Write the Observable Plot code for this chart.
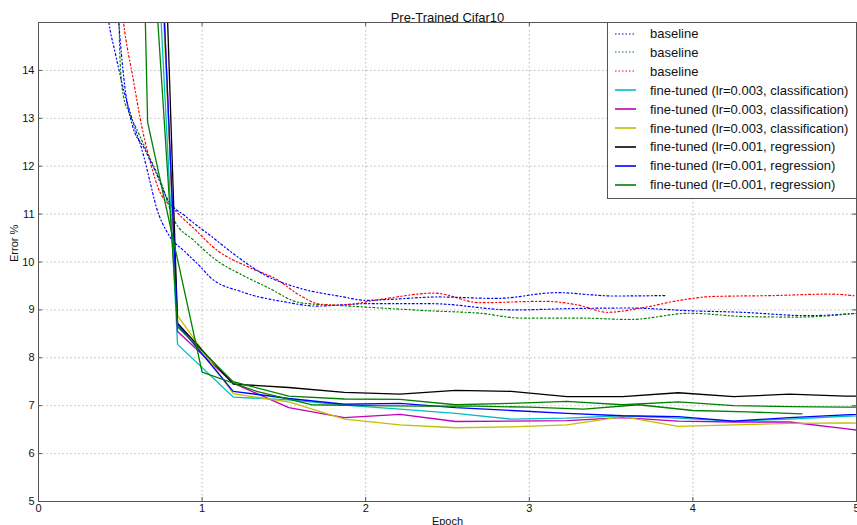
<!DOCTYPE html>
<html><head><meta charset="utf-8">
<script src="https://cdn.jsdelivr.net/npm/d3@7"></script>
<script src="https://cdn.jsdelivr.net/npm/@observablehq/plot@0.6"></script>
<style>
body{margin:0;background:#fff;font-family:"Liberation Sans",Arial,sans-serif;}
#wrap{position:relative;width:857px;height:525px;overflow:hidden;}
#legend{position:absolute;left:607px;top:22px;width:250px;height:177px;border:1px solid #555;background:#fff;box-sizing:border-box;}
.item{position:absolute;left:0;height:18px;display:flex;align-items:center;font-size:13px;color:#111;white-space:nowrap;}
.item svg{margin-left:7px;margin-right:13px;}
</style></head><body><div id="wrap"></div>
<script>
// ---- data ----
const TITLE = "Pre-Trained Cifar10";
const X_LABEL = "Epoch";
const Y_LABEL = "Error %";
const X_TICKS = [0, 1, 2, 3, 4, 5];
const Y_TICKS = [5, 6, 7, 8, 9, 10, 11, 12, 13, 14];

// baselines (dash-dot curves)
const BASE_BLUE_X = [0.41,0.43,0.47,0.52,0.58,0.64,0.68,0.72,0.79,0.90,0.99,1.05,1.24,1.50,1.70,2.00,2.40,2.90,3.30,3.60,4.00,4.30,4.70,5.00];
const BASE_BLUE_Y = [15.5,15.0,14.35,13.6,12.9,12.25,11.7,11.15,10.6,10.2,9.9,9.68,9.38,9.17,9.08,9.13,9.13,9.0,9.03,9.04,8.98,8.95,8.88,8.93];
const BASE_GREEN_X = [0.49,0.50,0.52,0.55,0.61,0.67,0.75,0.83,0.95,1.09,1.25,1.40,1.60,1.90,2.09,2.40,2.70,2.95,3.30,3.62,3.98,4.33,4.64,5.00];
const BASE_GREEN_Y = [15.3,14.1,13.45,13.15,12.7,12.25,11.65,10.87,10.45,10.03,9.72,9.47,9.15,9.08,9.04,8.98,8.93,8.83,8.83,8.80,8.93,8.86,8.85,8.93];
const BASE_RED_X = [0.51,0.52,0.58,0.63,0.69,0.73,0.83,0.95,1.09,1.30,1.45,1.60,1.72,1.85,2.09,2.42,2.70,3.09,3.30,3.48,3.70,3.92,4.12,4.50,4.84,5.00];
const BASE_RED_Y = [15.3,15.0,13.8,12.85,12.0,11.56,11.1,10.7,10.25,9.87,9.65,9.3,9.12,9.1,9.22,9.35,9.15,9.18,9.1,8.95,9.05,9.2,9.28,9.3,9.33,9.29];
const BASE_BLUE2_X = [0.48,0.50,0.53,0.57,0.65,0.72,0.79,0.90,1.07,1.20,1.40,1.60,1.85,2.00,2.15,2.44,2.80,3.17,3.52,3.84];
const BASE_BLUE2_Y = [15.5,14.6,13.6,12.9,12.35,11.85,11.3,10.95,10.5,10.15,9.7,9.45,9.28,9.2,9.22,9.27,9.24,9.36,9.29,9.3];

// fine-tuned (piecewise linear)
const FT_X = [0.51,0.85,1.19,1.53,1.87,2.21,2.55,2.89,3.23,3.57,3.91,4.25,4.59,4.93,5.27];
const FT_CYAN    = [31.1,8.28,7.18,7.12,7.01,6.93,6.84,6.72,6.74,6.79,6.74,6.68,6.72,6.78,6.82];
const FT_MAGENTA = [36.0,8.55,7.47,6.96,6.75,6.82,6.67,6.68,6.69,6.75,6.68,6.66,6.66,6.52,6.38];
const FT_YELLOW  = [33.6,8.88,7.25,7.08,6.72,6.60,6.54,6.56,6.60,6.77,6.57,6.60,6.63,6.64,6.62];
const FT_BLACK   = [44.0,8.72,7.45,7.38,7.28,7.24,7.32,7.30,7.19,7.19,7.27,7.19,7.24,7.20,7.21];
const FT_BLUE    = [35.5,8.70,7.30,7.15,7.03,7.05,6.96,6.90,6.84,6.79,6.77,6.68,6.75,6.81,6.86];
const FT_GREEN   = [26.6,8.65,7.50,7.20,7.14,7.13,7.02,7.05,7.09,7.02,7.08,7.00,6.98,6.97,6.97];
const FT_GREEN2_X = [0.333,0.667,1.0,1.333,1.667,2.0,2.333,2.667,3.0,3.333,3.667,4.0,4.333,4.667];
const FT_GREEN2   = [63.0,12.92,7.70,7.30,7.02,7.00,6.99,6.99,6.97,6.93,7.02,6.90,6.87,6.83];

const LEGEND_LABELS = ["baseline","baseline","baseline",
  "fine-tuned (lr=0.003, classification)","fine-tuned (lr=0.003, classification)","fine-tuned (lr=0.003, classification)",
  "fine-tuned (lr=0.001, regression)","fine-tuned (lr=0.001, regression)","fine-tuned (lr=0.001, regression)"];

// ---- styles ----
const DASH = "2,2.5,1,2.5";
const series = [
  {xs: BASE_BLUE_X,  ys: BASE_BLUE_Y,  color: "#0000ff", dash: DASH, curve: "monotone-x"},
  {xs: BASE_GREEN_X, ys: BASE_GREEN_Y, color: "#008000", dash: DASH, curve: "monotone-x"},
  {xs: BASE_RED_X,   ys: BASE_RED_Y,   color: "#ff0000", dash: DASH, curve: "monotone-x"},
  {xs: BASE_BLUE2_X, ys: BASE_BLUE2_Y, color: "#0000ff", dash: DASH, curve: "monotone-x"},
  {xs: FT_X, ys: FT_CYAN,    color: "#00bfbf", dash: null, curve: "linear"},
  {xs: FT_X, ys: FT_MAGENTA, color: "#bf00bf", dash: null, curve: "linear"},
  {xs: FT_X, ys: FT_YELLOW,  color: "#bfbf00", dash: null, curve: "linear"},
  {xs: FT_X, ys: FT_BLACK,   color: "#000000", dash: null, curve: "linear"},
  {xs: FT_X, ys: FT_BLUE,    color: "#0000ff", dash: null, curve: "linear"},
  {xs: FT_X, ys: FT_GREEN,   color: "#008000", dash: null, curve: "linear"},
  {xs: FT_GREEN2_X, ys: FT_GREEN2, color: "#008000", dash: null, curve: "linear"}
];
const legendStyles = [series[0], series[1], series[2], series[4], series[5], series[6], series[7], series[8], series[9]];

const lineMarks = series.map(s => Plot.line(
  s.xs.map((x, i) => ({epoch: x, err: s.ys[i]})),
  {x: "epoch", y: "err", stroke: s.color, strokeWidth: s.dash ? 1.2 : 1.3, strokeDasharray: s.dash, curve: s.curve, clip: true}
));

const gridStyle = {stroke: "#aaaaaa", strokeOpacity: 1, strokeWidth: 0.8, strokeDasharray: "1.5,2.5"};
const inner = X_TICKS.slice(1, -1);
const innerY = Y_TICKS.slice(1);

const chart = Plot.plot({
  width: 857, height: 525,
  marginLeft: 38, marginRight: 1, marginTop: 22, marginBottom: 24,
  style: {fontFamily: "'Liberation Sans', Arial, sans-serif", fontSize: "11px", color: "#111", background: "#fff"},
  x: {domain: [0, 5]},
  y: {domain: [5, 15]},
  marks: [
    Plot.gridX(inner, gridStyle),
    Plot.gridY(innerY, gridStyle),
    ...lineMarks,
    Plot.ruleX(inner, {stroke: "#555", insetTop: 475}),
    Plot.ruleX(inner, {stroke: "#555", insetBottom: 475}),
    Plot.ruleY(innerY, {stroke: "#555", insetRight: 814}),
    Plot.ruleY(innerY, {stroke: "#555", insetLeft: 814}),
    Plot.frame({stroke: "#555", strokeWidth: 1}),
    Plot.axisX(X_TICKS, {anchor: "bottom", tickSize: 0, tickPadding: 3, tickFormat: d3.format("d"), label: null, fill: "#111"}),
    Plot.axisY(Y_TICKS, {anchor: "left", tickSize: 0, tickPadding: 4, tickFormat: d3.format("d"), label: null, fill: "#111"}),
    Plot.text([X_LABEL], {frameAnchor: "bottom", dy: 16, lineAnchor: "top", fontSize: 11, fill: "#111"}),
    Plot.text([Y_LABEL], {frameAnchor: "left", dx: -24, rotate: -90, fontSize: 11, fill: "#111"}),
    Plot.text([TITLE], {frameAnchor: "top", dy: -10, fontSize: 13, fill: "#111"})
  ]
});

const wrap = document.getElementById("wrap");
wrap.appendChild(chart);

// legend overlay
const leg = document.createElement("div");
leg.id = "legend";
LEGEND_LABELS.forEach((lab, i) => {
  const st = legendStyles[i];
  const item = document.createElement("div");
  item.className = "item";
  item.style.top = (1.5 + i * 18.9) + "px";
  const ns = "http://www.w3.org/2000/svg";
  const sv = document.createElementNS(ns, "svg");
  sv.setAttribute("width", "22"); sv.setAttribute("height", "6");
  const ln = document.createElementNS(ns, "line");
  ln.setAttribute("x1", "0"); ln.setAttribute("x2", "21"); ln.setAttribute("y1", "3"); ln.setAttribute("y2", "3");
  ln.setAttribute("stroke", st.color); ln.setAttribute("stroke-width", st.dash ? "1.2" : "1.6");
  if (st.dash) ln.setAttribute("stroke-dasharray", "1.5,2");
  sv.appendChild(ln);
  item.appendChild(sv);
  const sp = document.createElement("span");
  sp.textContent = lab;
  item.appendChild(sp);
  leg.appendChild(item);
});
wrap.appendChild(leg);
</script></body></html>
